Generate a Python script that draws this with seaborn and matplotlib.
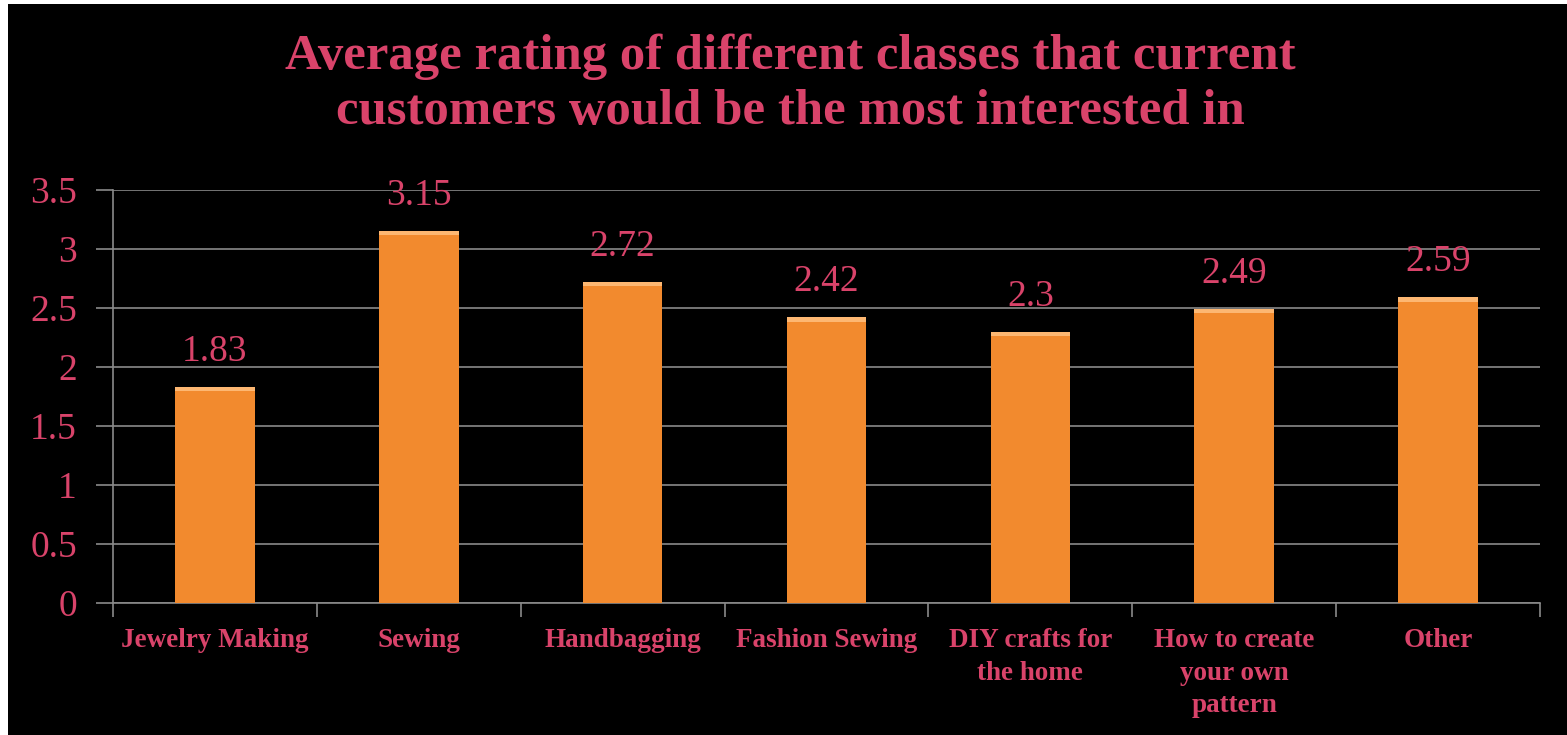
import matplotlib
matplotlib.use("Agg")
import matplotlib.pyplot as plt
import seaborn as sns
import pandas as pd
import numpy as np
from matplotlib.patches import Rectangle

categories = ["Jewelry Making", "Sewing", "Handbagging", "Fashion Sewing",
              "DIY crafts for\nthe home", "How to create\nyour own\npattern", "Other"]
ratings = [1.83, 3.15, 2.72, 2.42, 2.3, 2.49, 2.59]
y_ticks = [0, 0.5, 1, 1.5, 2, 2.5, 3, 3.5]
y_tick_labels = ["0", "0.5", "1", "1.5", "2", "2.5", "3", "3.5"]
title = "Average rating of different classes that current\ncustomers would be the most interested in"

sns.set_theme(style="dark")
plt.rcParams["font.family"] = ["Liberation Serif", "DejaVu Serif"]

text_color = "#D9436A"
bar_color = "#F28A2E"
grid_color = "#8A8A8A"

df = pd.DataFrame({"category": categories, "rating": ratings})

fig = plt.figure(figsize=(15.67, 7.35), dpi=100, facecolor="white")
# black slide background with a thin white margin on the left and top
fig.patches.append(Rectangle((8 / 1567, 0), 1 - 8 / 1567, 1 - 4 / 735,
                             transform=fig.transFigure, facecolor="black",
                             edgecolor="none", zorder=-10))

ax = fig.add_axes([113 / 1567, 1 - 603 / 735, (1540 - 113) / 1567, (603 - 190) / 735])
ax.set_facecolor("black")

sns.barplot(data=df, x="category", y="rating", color=bar_color, width=0.39,
            saturation=1, ax=ax, zorder=3, edgecolor="none", linewidth=0)

# light highlight along the top of each bar
for p in list(ax.patches):
    x0, w, h = p.get_x(), p.get_width(), p.get_height()
    ax.add_patch(Rectangle((x0, h - 0.035), w, 0.035, facecolor="#FDB772",
                           edgecolor="none", zorder=4))

ax.set_ylim(0, 3.5)
ax.set_xlim(-0.5, len(categories) - 0.5)
ax.set_yticks(y_ticks)
ax.set_yticklabels(y_tick_labels)
ax.grid(axis="y", color=grid_color, linewidth=1.2, zorder=0)
ax.grid(axis="x", visible=False)

for s in ["top", "right"]:
    ax.spines[s].set_visible(False)
for s in ["left", "bottom"]:
    ax.spines[s].set_visible(True)
    ax.spines[s].set_color(grid_color)
    ax.spines[s].set_linewidth(1.2)

ax.tick_params(axis="y", colors=grid_color, labelcolor=text_color, labelsize=27,
               length=12, width=1.2, direction="out", pad=14, left=True)
ax.tick_params(axis="x", which="major", length=0, labelcolor=text_color,
               labelsize=19.5, pad=18)
ax.set_xticks(np.arange(-0.5, len(categories)), minor=True)
ax.tick_params(axis="x", which="minor", length=10, width=1.2, colors=grid_color,
               direction="out", bottom=True)
for lbl in ax.get_xticklabels():
    lbl.set_fontweight("bold")
    lbl.set_linespacing(1.4)
    lbl.set_verticalalignment("top")

for i, v in enumerate(ratings):
    ax.annotate(f"{v:g}", (i, v), xytext=(0, 13), textcoords="offset points",
                ha="center", va="bottom", color=text_color, fontsize=27)

ax.set_xlabel("")
ax.set_ylabel("")

fig.text(790 / 1567, 1 - 84 / 735, title, ha="center", va="center",
         color=text_color, fontsize=36.5, fontweight="bold", linespacing=1.25)

fig.savefig("out.png", dpi=100, facecolor=fig.get_facecolor())
